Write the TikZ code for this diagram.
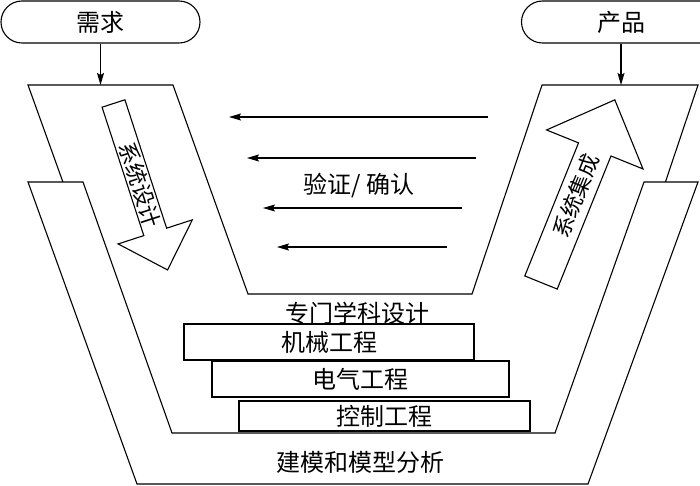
\documentclass[tikz,border=0pt]{standalone}
\usepackage{fontspec}
\usetikzlibrary{positioning, arrows.meta}
\newfontfamily\cjk{Noto Sans CJK SC}

\begin{document}
\begin{tikzpicture}[
    x=1pt, y=-1pt,
    line width=1.1pt,
    term/.style={
        draw,
        rounded corners=21pt,
        minimum width=199pt,
        minimum height=42pt,
        inner sep=0pt,
        font=\cjk\fontsize{24}{28}\selectfont
    },
    vshape/.style={draw, fill=white, line join=miter},
    discbox/.style={
        draw,
        fill=white,
        inner sep=0pt,
        minimum height=#1,
        font=\cjk\fontsize{24}{28}\selectfont
    },
    discbox/.default=36pt,
    lbl/.style={font=\cjk\fontsize{24}{28}\selectfont, inner sep=0pt},
    rotlbl/.style={font=\cjk\fontsize{22}{26}\selectfont, inner sep=0pt},
    bigarrow/.style={draw, fill=white},
    flow/.style={->, >={Stealth[length=12pt, width=7pt, inset=2pt]}}
]
\useasboundingbox (0,0) rectangle (700,486);

% === inner V: design / integration ===
\draw[vshape] (28,85) -- (173,85) -- (248,294) -- (472,294) -- (542,85)
    -- (698,85) -- (572,460) -- (163,460) -- cycle;

% === outer V: modelling ===
\draw[vshape] (28,182) -- (83,182) -- (172,433) -- (555,433) -- (644,182)
    -- (698,182) -- (588,484) -- (137,484) -- cycle;

% === Terminals ===
\node[term] (req) at (100.5,22) {需求};
\node[term] (prod) at (621,22) {产品};
\coordinate (reqin) at (100.5,85);
\coordinate (prodin) at (621,85);
\draw[flow] (req) -- (reqin);
\draw[flow] (prod) -- (prodin);

% === System design (down) ===
\begin{scope}[shift={(113.5,103.5)}, rotate=-72]
\draw[bigarrow] (0,-12) -- (135,-12) -- (135,-39) -- (175,0) -- (135,39)
    -- (135,12) -- (0,12) -- cycle;
\end{scope}
\node[rotlbl, rotate=-72] (sysdes) at (140,185) {系统设计};

% === System integration (up) ===
\begin{scope}[shift={(541,282.5)}, rotate=68]
\draw[bigarrow] (0,-17.5) -- (143.5,-17.5) -- (143.5,-52) -- (197,0)
    -- (143.5,52) -- (143.5,17.5) -- (0,17.5) -- cycle;
\end{scope}
\node[rotlbl, rotate=68] (sysint) at (576,196) {系统集成};

% === Verification / validation ===
\foreach \i/\y/\xa/\xb in {1/117/488/229, 2/158/476/247, 3/208/462/263, 4/247/447/277} {
    \coordinate (vs\i) at (\xa,\y);
    \coordinate (ve\i) at (\xb,\y);
    \draw[flow] (vs\i) -- (ve\i);
}
\node[lbl] (vv) at (359,185) {验证/ 确认};

% === Disciplines ===
\node[lbl] (disc) at (357,313) {专门学科设计};
\node[discbox, minimum width=290pt] (mech) at (329,342) {机械工程};
\node[discbox, minimum width=297pt] (elec) at (360.5,379) {电气工程};
\node[discbox=30pt, minimum width=291pt] (ctrl) at (384.5,416) {控制工程};

\node[lbl] (model) at (360,462) {建模和模型分析};

\end{tikzpicture}
\end{document}
